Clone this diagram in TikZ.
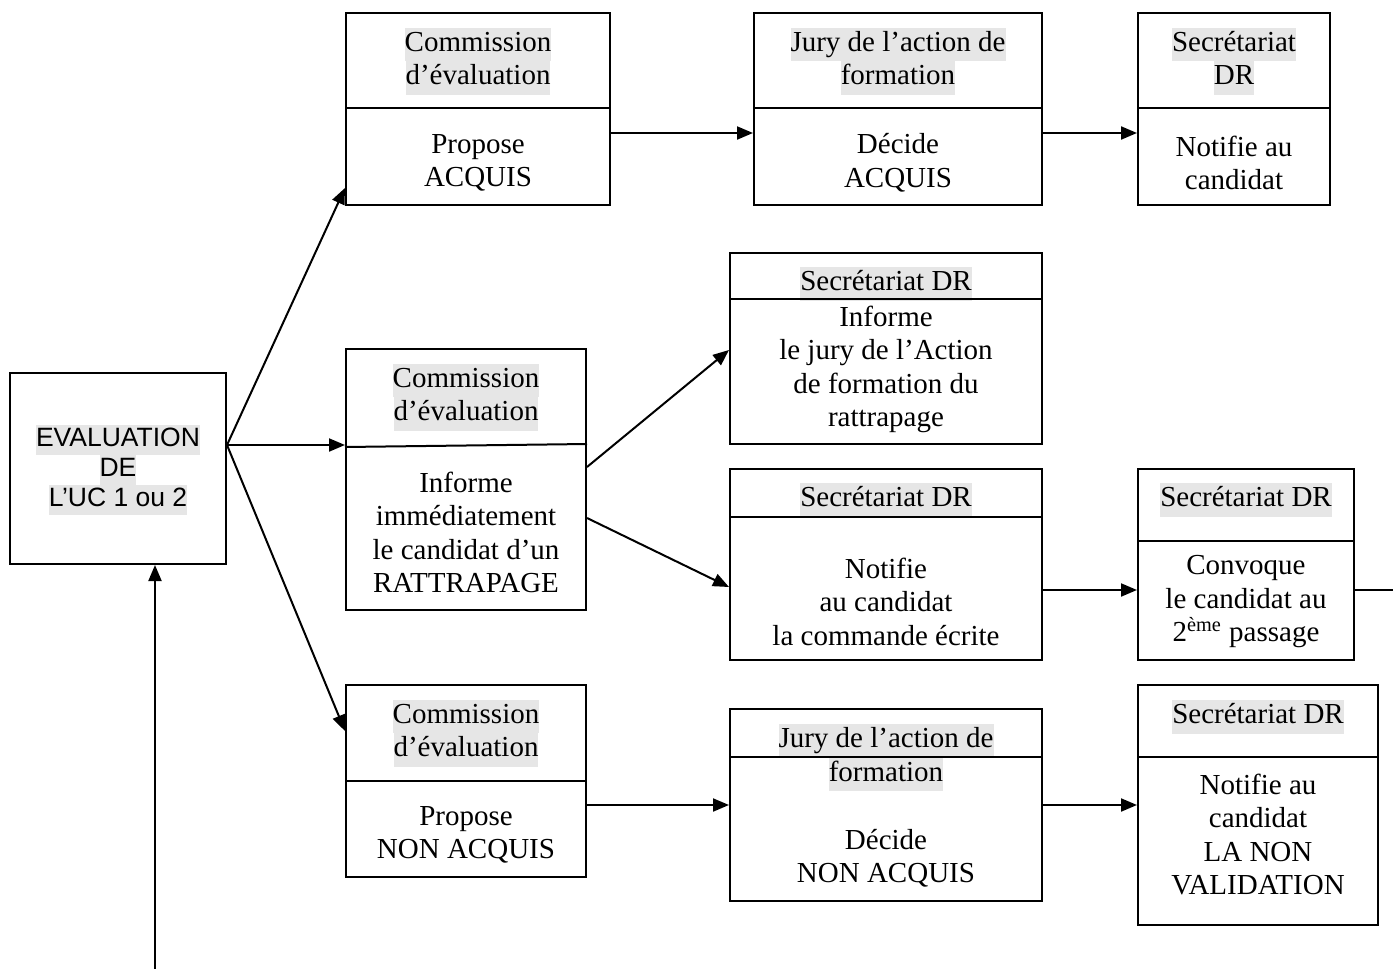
\documentclass[tikz,border=0pt]{standalone}
\usepackage{fontspec}
\setmainfont{Liberation Serif}
\newfontfamily\arialfont{Liberation Sans}
\usetikzlibrary{arrows.meta,calc}
\definecolor{hlgray}{HTML}{E6E6E6}
\newcommand\hlt[1]{{\setlength{\fboxsep}{0pt}\colorbox{hlgray}{\strut #1}}}
\begin{document}
\begin{tikzpicture}[x=0.5pt,y=-0.5pt,
 box/.style={draw,line width=1pt,inner sep=0pt,rectangle},
 txt/.style={align=center,inner sep=0pt,yshift=-1.6pt,font=\fontsize{14.5}{16.75}\selectfont},
 sans/.style={align=center,inner sep=0pt,yshift=-1.5pt,font=\arialfont\fontsize{13.25}{15}\selectfont},
 conn/.style={line width=1pt,-{Triangle[length=8pt,width=6.5pt]}},
 div/.style={line width=1pt}]
\useasboundingbox (0,0) rectangle (1393,969);

% boxes
\node[box,minimum width=108pt,minimum height=95.5pt] (A) at (118,468.5) {};
\node[box,minimum width=132pt,minimum height=96pt] (B1) at (478,109) {};
\node[box,minimum width=144pt,minimum height=96pt] (B2) at (898,109) {};
\node[box,minimum width=96pt,minimum height=96pt] (B3) at (1234,109) {};
\node[box,minimum width=120pt,minimum height=130.5pt] (C1) at (466,479.5) {};
\node[box,minimum width=156pt,minimum height=95.5pt] (C2) at (886,348.5) {};
\node[box,minimum width=156pt,minimum height=95.5pt] (C3) at (886,564.5) {};
\node[box,minimum width=108pt,minimum height=95.5pt] (C4) at (1246,564.5) {};
\node[box,minimum width=120pt,minimum height=96pt] (D1) at (466,781) {};
\node[box,minimum width=156pt,minimum height=96pt] (D2) at (886,805) {};
\node[box,minimum width=120pt,minimum height=120pt] (D3) at (1258,805) {};

% texts
\node[sans] (tA) at (118,467) {\hlt{EVALUATION}\\\hlt{DE}\\\hlt{L’UC 1 ou 2}};

\node[txt] (tB1) at (478,58) {\hlt{Commission}\\\hlt{d’évaluation}};
\node[txt] (bB1) at (478,159.5) {Propose\\ACQUIS};
\node[txt] (tB2) at (898,58) {\hlt{Jury de l’action de}\\\hlt{formation}};
\node[txt] (bB2) at (898,159.5) {Décide\\ACQUIS};
\node[txt] (tB3) at (1234,58) {\hlt{Secrétariat}\\\hlt{DR}};
\node[txt] (bB3) at (1234,159.5) {Notifie au\\candidat};

\node[txt] (tC1) at (466,394) {\hlt{Commission}\\\hlt{d’évaluation}};
\node[txt] (bC1) at (466,529) {Informe\\immédiatement\\le candidat d’un\\RATTRAPAGE};
\node[txt] (tC2) at (886,281) {\hlt{Secrétariat DR}};
\node[txt] (bC2) at (886,366) {Informe\\le jury de l’Action\\de formation du\\rattrapage};
\node[txt] (tC3) at (886,497) {\hlt{Secrétariat DR}};
\node[txt] (bC3) at (886,598.5) {Notifie\\au candidat\\la commande écrite};
\node[txt] (tC4) at (1246,497) {\hlt{Secrétariat DR}};
\node[txt] (bC4) at (1246,598.5) {Convoque\\le candidat au\\2\textsuperscript{ème} passage};

\node[txt] (tD1) at (466,730) {\hlt{Commission}\\\hlt{d’évaluation}};
\node[txt] (bD1) at (466,831.5) {Propose\\NON ACQUIS};
\node[txt] (tD2) at (886,754.5) {\hlt{Jury de l’action de}\\\hlt{formation}};
\node[txt] (bD2) at (886,855) {Décide\\NON ACQUIS};
\node[txt] (tD3) at (1258,714) {\hlt{Secrétariat DR}};
\node[txt] (bD3) at (1258,831.5) {Notifie au\\candidat\\LA NON\\VALIDATION};

% dividers (drawn over the highlights)
\draw[div] (B1.west |- 0,108) -- (B1.east |- 0,108);
\draw[div] (B2.west |- 0,108) -- (B2.east |- 0,108);
\draw[div] (B3.west |- 0,108) -- (B3.east |- 0,108);
\draw[div] (C1.west |- 0,447) -- (C1.east |- 0,444);
\draw[div] (C2.west |- 0,299) -- (C2.east |- 0,299);
\draw[div] (C3.west |- 0,517) -- (C3.east |- 0,517);
\draw[div] (C4.west |- 0,541) -- (C4.east |- 0,541);
\draw[div] (D1.west |- 0,781) -- (D1.east |- 0,781);
\draw[div] (D2.west |- 0,757) -- (D2.east |- 0,757);
\draw[div] (D3.west |- 0,757) -- (D3.east |- 0,757);

% connectors
\coordinate (aout) at ($(A.east)+(0,-23.5)$);
\draw[conn] (aout) -- ($(B1.south west)+(0,-18)$);
\draw[conn] (aout) -- ($(C1.west)+(0,-34.5)$);
\draw[conn] (aout) -- ($(D1.north west)+(0,47)$);

\draw[conn] ($(B1.east)+(0,24)$) -- ($(B2.west)+(0,24)$);
\draw[conn] ($(B2.east)+(0,24)$) -- ($(B3.west)+(0,24)$);

\draw[conn] ($(C1.east)+(0,-12.5)$) -- ($(C2.west)+(0,1.5)$);
\draw[conn] ($(C1.east)+(0,38.5)$) -- ($(C3.west)+(0,22.5)$);
\draw[conn] ($(C3.east)+(0,25.5)$) -- ($(C4.west)+(0,25.5)$);
\coordinate (edge) at (1393,590);
\draw[div] ($(C4.east)+(0,25.5)$) -- (edge);

\draw[conn] ($(D1.east)+(0,24)$) -- ($(D2.west)+(0,0)$);
\draw[conn] (D2.east) -- (D3.west);

\coordinate (bot) at (155,969);
\draw[conn] (bot) -- (bot |- A.south);
\end{tikzpicture}
\end{document}
